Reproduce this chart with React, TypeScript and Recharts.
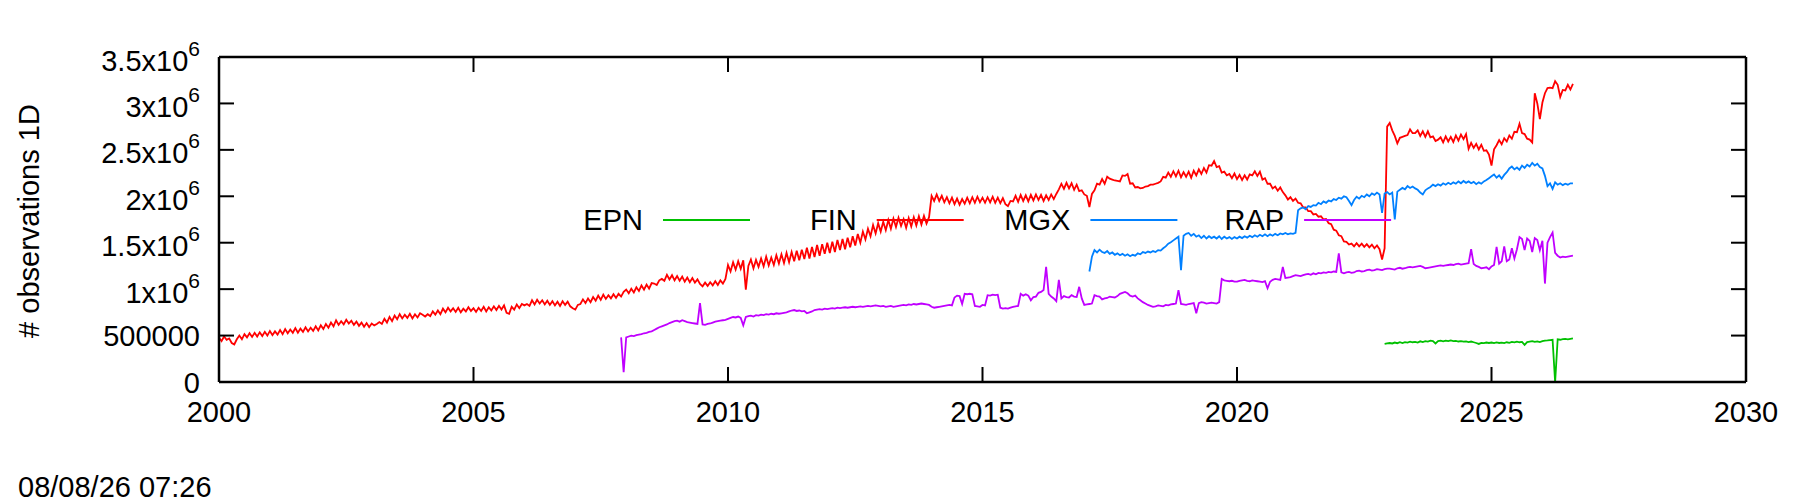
import React from "react";
import { LineChart, Line, XAxis, YAxis, Legend } from "recharts";

// readings every 0.05 year, in thousands of observations
const STEP = 0.05;

const epnStart = 2022.9;
const epnValues = [
  410, 415,
  420, 415, 425, 418, 428, 420, 430, 425, 435, 428, 432, 425, 438, 430, 440, 435, 445, 440, 415, 440,
  445, 438, 445, 440, 447, 440, 443, 436, 440, 434, 438, 430, 436, 428, 420, 410, 422, 418, 425, 420,
  425, 418, 426, 420, 424, 418, 428, 422, 432, 426, 435, 428, 432, 400, 430, 436, 440, 432, 438, 430,
  440, 445, 448, 452, 455, 0, 460, 455, 462, 465, 460, 465, 470,
];

const finStart = 2000;
const finValues = [
  480, 440, 490, 455, 470, 420, 405, 460, 500, 460, 515, 480, 525, 485, 530, 490, 535, 495, 540, 500,
  550, 505, 545, 510, 560, 515, 570, 525, 565, 530, 580, 530, 575, 540, 590, 545, 585, 550, 600, 555,
  610, 570, 625, 585, 640, 600, 665, 615, 655, 620, 670, 630, 660, 615, 650, 605, 640, 595, 635, 590,
  630, 610, 625, 645, 625, 680, 640, 700, 655, 715, 675, 730, 685, 725, 690, 735, 685, 730, 695, 740,
  725, 705, 730, 710, 760, 725, 770, 730, 790, 750, 800, 760, 795, 755, 800, 750, 790, 760, 805, 765,
  795, 755, 800, 765, 810, 760, 805, 770, 815, 775, 820, 780, 825, 745, 735, 810, 780, 835, 795, 840,
  825, 840, 820, 880, 835, 885, 845, 880, 835, 875, 830, 870, 825, 865, 820, 870, 830, 865, 815, 795,
  780, 830, 840, 890, 850, 900, 860, 915, 875, 930, 885, 940, 895, 935, 900, 945, 905, 950, 920, 970,
  995, 955, 1005, 965, 1020, 980, 1040, 995, 1050, 1005, 1065, 1060, 1045, 1095, 1110, 1090, 1155, 1105, 1150, 1095,
  1140, 1090, 1135, 1080, 1125, 1075, 1120, 1070, 1105, 1055, 1030, 1070, 1035, 1075, 1040, 1085, 1045, 1095, 1060, 1110,
  1260, 1190, 1290, 1210, 1300, 1220, 1310, 995, 1250, 1320, 1225, 1315, 1240, 1330, 1245, 1350, 1255, 1340, 1260, 1365,
  1275, 1375, 1280, 1390, 1290, 1400, 1300, 1415, 1310, 1425, 1325, 1445, 1330, 1455, 1345, 1475, 1360, 1485, 1380, 1500,
  1390, 1510, 1400, 1530, 1420, 1540, 1430, 1555, 1450, 1570, 1470, 1595, 1500, 1620, 1535, 1650, 1570, 1690, 1600, 1710,
  1620, 1725, 1635, 1745, 1650, 1760, 1670, 1770, 1680, 1755, 1660, 1765, 1675, 1775, 1685, 1785, 1695, 1790, 1705, 1775,
  2005, 1950, 2020, 1950, 2005, 1935, 1990, 1925, 1985, 1915, 1975, 1910, 1970, 1920, 1985, 1925, 1990, 1930, 1995, 1935,
  1985, 1930, 1990, 1935, 1995, 1930, 1985, 1925, 1980, 1915, 1895, 1950, 1945, 2005, 1940, 2015, 1950, 2010, 1945, 2015,
  1955, 2020, 1960, 2015, 1950, 2010, 1960, 2020, 1970, 2025, 2075, 2135, 2080, 2145, 2085, 2140, 2070, 2125, 2055, 2065,
  2020, 2005, 1885, 2025, 2065, 2135, 2125, 2185, 2135, 2210, 2190, 2180, 2170, 2165, 2160, 2225, 2220, 2240, 2135, 2140,
  2095, 2100, 2085, 2090, 2105, 2110, 2125, 2125, 2135, 2145, 2160, 2210, 2200, 2255, 2210, 2270, 2215, 2275, 2205, 2260,
  2210, 2265, 2200, 2275, 2225, 2290, 2240, 2305, 2255, 2335, 2330, 2380, 2315, 2325, 2255, 2265, 2225, 2240, 2195, 2245,
  2185, 2230, 2175, 2225, 2180, 2235, 2225, 2270, 2220, 2265, 2180, 2195, 2135, 2135, 2085, 2105, 2060, 2095, 2045, 2010,
  1965, 1990, 1950, 1975, 1930, 1925, 1880, 1880, 1840, 1840, 1805, 1810, 1780, 1785, 1750, 1755, 1710, 1700, 1640, 1630,
  1580, 1570, 1515, 1510, 1480, 1490, 1460, 1495, 1460, 1490, 1455, 1485, 1450, 1480, 1440, 1470, 1430, 1320, 1440, 2750,
  2790, 2710, 2650, 2570, 2630, 2640, 2650, 2660, 2720, 2680, 2680, 2710, 2650, 2700, 2640, 2700, 2635, 2645, 2595, 2610,
  2635, 2580, 2645, 2590, 2640, 2585, 2655, 2600, 2665, 2615, 2670, 2510, 2575, 2520, 2565, 2505, 2555, 2490, 2495, 2450,
  2330, 2505, 2550, 2605, 2560, 2625, 2590, 2655, 2620, 2695, 2690, 2780, 2680, 2670, 2620, 2610, 2580, 3110, 3000, 2830,
  3010, 3110, 3165, 3170, 3165, 3240, 3200, 3070, 3145, 3140, 3200, 3150, 3210,
];

const mgxStart = 2017.1;
const mgxValues = [
  1190, 1350, 1420, 1395, 1425, 1400, 1390, 1410, 1380, 1395, 1370, 1385, 1365, 1380, 1360, 1375, 1355, 1370,
  1360, 1385, 1375, 1400, 1390, 1405, 1395, 1410, 1400, 1420, 1415, 1440, 1460, 1490, 1505, 1525, 1545, 1565, 1205, 1575,
  1595, 1605, 1575, 1595, 1565, 1580, 1550, 1575, 1545, 1570, 1550, 1565, 1545, 1570, 1540, 1565, 1545, 1560, 1540, 1560,
  1545, 1565, 1550, 1570, 1555, 1575, 1560, 1580, 1565, 1585, 1570, 1590, 1570, 1590, 1575, 1595, 1580, 1600, 1590, 1605,
  1590, 1600, 1595, 1605, 1850, 1870, 1880, 1860, 1895, 1885, 1905, 1900, 1930, 1915, 1945, 1930, 1955, 1945, 1970, 1960,
  1985, 1975, 2000, 1990, 1950, 1905, 1960, 1995, 1975, 2005, 1990, 2020, 2000, 2030, 2015, 2040, 2020, 1820, 2030, 2045,
  2020, 2040, 1750, 2050, 2070, 2090, 2075, 2110, 2090, 2105, 2085, 2070, 2040, 2020, 2065, 2085, 2100, 2125, 2110, 2130,
  2115, 2140, 2125, 2145, 2130, 2150, 2135, 2160, 2140, 2165, 2145, 2160, 2140, 2155, 2130, 2150, 2135, 2160, 2175, 2195,
  2215, 2235, 2200, 2225, 2190, 2230, 2260, 2300, 2320, 2290, 2310, 2285, 2330, 2305, 2340, 2320, 2360, 2330, 2350, 2315,
  2300, 2220, 2110, 2140, 2080, 2150, 2125, 2140, 2120, 2135, 2125, 2140, 2140,
];

const rapStart = 2007.9;
const rapValues = [
  480, 105,
  480, 490, 500, 495, 505, 510, 515, 525, 530, 540, 545, 560, 575, 590, 600, 610, 620, 635, 645, 655,
  660, 650, 665, 655, 645, 640, 635, 630, 625, 850, 620, 615, 625, 630, 640, 650, 655, 660, 665, 670,
  680, 690, 700, 695, 705, 690, 610, 700, 710, 715, 705, 720, 715, 725, 720, 730, 725, 735, 730, 740,
  735, 740, 745, 750, 760, 770, 775, 765, 770, 760, 765, 740, 750, 760, 775, 780, 785, 780, 790, 785,
  790, 795, 790, 800, 795, 800, 805, 800, 805, 810, 805, 810, 815, 810, 815, 820, 815, 820, 825, 820,
  815, 820, 810, 815, 820, 810, 815, 820, 825, 830, 825, 835, 830, 840, 835, 840, 845, 840, 835, 830,
  810, 800, 805, 810, 815, 820, 825, 830, 825, 910, 930, 925, 840, 950, 945, 950, 945, 820, 815, 810,
  830, 825, 935, 930, 940, 935, 940, 800, 790, 795, 790, 800, 810, 815, 820, 950, 930, 945, 930, 880,
  915, 920, 960, 970, 990, 1240, 950, 920, 900, 870, 1100, 900, 925, 915, 910, 935, 920, 915, 1025, 900,
  830, 835, 840, 845, 935, 925, 920, 890, 900, 905, 920, 915, 910, 925, 950, 960, 970, 955, 930, 920,
  930, 900, 880, 860, 845, 830, 820, 810, 815, 825, 820, 815, 830, 825, 835, 840, 845, 990, 840, 835,
  830, 840, 845, 850, 740, 850, 860, 855, 845, 850, 855, 850, 845, 860, 1110, 1095, 1090, 1085, 1090, 1080,
  1080, 1090, 1095, 1100, 1090, 1085, 1095, 1090, 1085, 1080, 1075, 1085, 1010, 1080, 1100, 1110, 1105, 1100, 1240, 1120,
  1125, 1130, 1140, 1150, 1145, 1140, 1150, 1160, 1165, 1155, 1170, 1160, 1175, 1170, 1180, 1175, 1185, 1180, 1190, 1185,
  1385, 1180, 1170, 1180, 1185, 1175, 1180, 1195, 1200, 1190, 1195, 1205, 1210, 1200, 1205, 1215, 1210, 1205, 1215, 1220,
  1220, 1215, 1210, 1225, 1230, 1220, 1225, 1235, 1240, 1235, 1240, 1245, 1250, 1240, 1225, 1230, 1235, 1240, 1245, 1250,
  1255, 1250, 1255, 1260, 1265, 1260, 1270, 1275, 1265, 1270, 1275, 1280, 1430, 1270, 1250, 1240, 1225, 1230, 1235, 1215,
  1245, 1260, 1455, 1275, 1300, 1460, 1300, 1320, 1440, 1330, 1430, 1560, 1540, 1420, 1545, 1520, 1400, 1550, 1530, 1420,
  1520, 1060, 1500, 1560, 1610, 1390, 1360, 1340, 1350, 1345, 1350, 1355, 1360,
];

const seriesNames = ["EPN", "FIN", "MGX", "RAP"];
const seriesColors = ["#00c000", "#ff0000", "#0080ff", "#c000ff"];

const xTicks = [2000, 2005, 2010, 2015, 2020, 2025, 2030];
const yTicks = [0, 500000, 1000000, 1500000, 2000000, 2500000, 3000000, 3500000];
const yTickLabels: [string, string][] = [
  ["0", ""], ["500000", ""], ["1x10", "6"], ["1.5x10", "6"],
  ["2x10", "6"], ["2.5x10", "6"], ["3x10", "6"], ["3.5x10", "6"],
];

const yTitle = "# observations 1D";
const stamp = "08/08/26 07:26";

const toRows = (start: number, vals: number[]) =>
  vals.map((k, i) => ({ t: Math.round((start + i * STEP) * 100) / 100, v: k * 1000 }));

const FONT = "'Liberation Sans', Arial, Helvetica, sans-serif";
const AXIS = { stroke: "#000", strokeWidth: 2.5 };
const TICK = { stroke: "#000", strokeWidth: 2 };

function XTick(props: any) {
  const { x, y, payload } = props;
  return (
    <text x={x} y={y + 40} textAnchor="middle" fontSize={29} fill="#000" fontFamily={FONT}>
      {payload.value}
    </text>
  );
}

function YTick(props: any) {
  const { x, y, payload } = props;
  const idx = yTicks.indexOf(payload.value);
  const [base, exp] = yTickLabels[idx] || [String(payload.value), ""];
  return (
    <text x={x - 19} y={y + (exp ? 13.5 : 10.5)} textAnchor="end" fontSize={29} fill="#000" fontFamily={FONT}>
      {base}
      {exp ? (
        <tspan dy={-15} fontSize={21}>
          {exp}
        </tspan>
      ) : null}
    </text>
  );
}

function NoTick() {
  return <g />;
}

function Overlay(props: any) {
  const payload: any[] = props.payload || [];
  return (
    <svg width={1800} height={502} style={{ display: "block" }}>
      {payload.map((p) => {
        const i = seriesNames.indexOf(p.value);
        const x0 = 663 + i * 213.7;
        return (
          <g key={p.value}>
            <text x={x0 - 20} y={230} textAnchor="end" fontSize={29} fill="#000" fontFamily={FONT}>
              {p.value}
            </text>
            <line x1={x0} y1={220} x2={x0 + 87} y2={220} stroke={p.color} strokeWidth={2} />
          </g>
        );
      })}
      <text
        transform="translate(29,221) rotate(-90)"
        textAnchor="middle"
        dominantBaseline="central"
        fontSize={29}
        fill="#000"
        fontFamily={FONT}
      >
        {yTitle}
      </text>
      <text x={18} y={497} fontSize={29} fill="#000" fontFamily={FONT}>
        {stamp}
      </text>
    </svg>
  );
}

export default function App() {
  const series = [
    toRows(epnStart, epnValues),
    toRows(finStart, finValues),
    toRows(mgxStart, mgxValues),
    toRows(rapStart, rapValues),
  ];
  return (
    <div style={{ position: "absolute", left: 0, top: 0, background: "#fff" }}>
      <LineChart width={1800} height={502} margin={{ top: 57, right: 54, bottom: 0, left: 0 }}>
        <XAxis
          xAxisId="b"
          dataKey="t"
          type="number"
          domain={[2000, 2030]}
          ticks={xTicks}
          allowDataOverflow
          height={120}
          tickSize={-15}
          tickMargin={15}
          tick={<XTick />}
          axisLine={AXIS}
          tickLine={TICK}
        />
        <XAxis
          xAxisId="t"
          orientation="top"
          mirror
          dataKey="t"
          type="number"
          domain={[2000, 2030]}
          ticks={xTicks}
          allowDataOverflow
          height={1}
          tickSize={15}
          tick={<NoTick />}
          axisLine={AXIS}
          tickLine={TICK}
        />
        <YAxis
          yAxisId="l"
          type="number"
          domain={[0, 3500000]}
          ticks={yTicks}
          allowDataOverflow
          width={219}
          tickSize={-15}
          tickMargin={15}
          tick={<YTick />}
          axisLine={AXIS}
          tickLine={TICK}
        />
        <YAxis
          yAxisId="r"
          orientation="right"
          mirror
          type="number"
          domain={[0, 3500000]}
          ticks={yTicks}
          allowDataOverflow
          width={1}
          tickSize={15}
          tick={<NoTick />}
          axisLine={AXIS}
          tickLine={TICK}
        />
        <Legend
          verticalAlign="middle"
          align="center"
          layout="horizontal"
          content={<Overlay />}
          wrapperStyle={{ top: 0, left: 0, width: 1800, height: 502, pointerEvents: "none" }}
        />
        {series.map((rows, i) => (
          <Line
            key={seriesNames[i]}
            name={seriesNames[i]}
            data={rows}
            dataKey="v"
            xAxisId="b"
            yAxisId="l"
            type="linear"
            stroke={seriesColors[i]}
            strokeWidth={1.8}
            dot={false}
            activeDot={false}
            isAnimationActive={false}
          />
        ))}
      </LineChart>
    </div>
  );
}
